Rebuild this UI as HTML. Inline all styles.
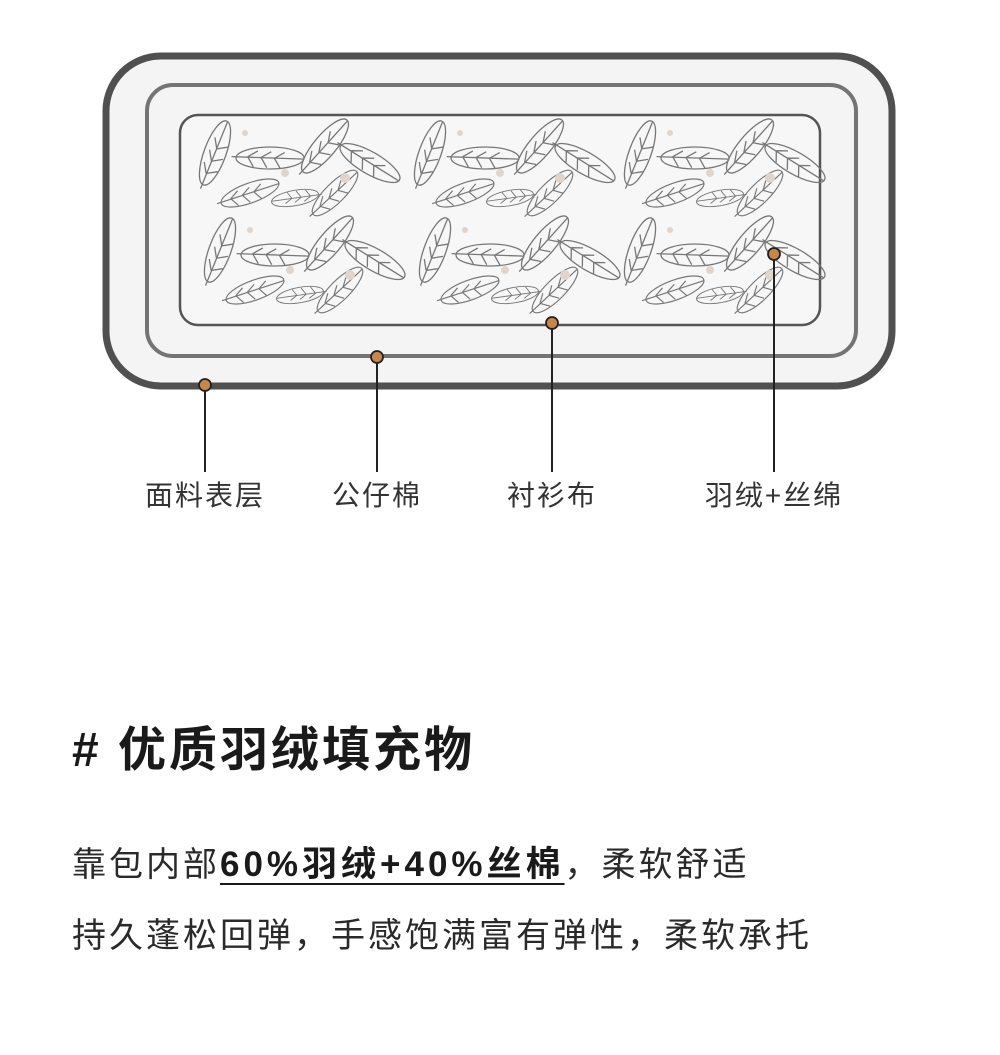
<!DOCTYPE html>
<html><head><meta charset="utf-8"><style>
body{margin:0;background:#fff;width:1000px;height:1055px;overflow:hidden;position:relative;font-family:"Liberation Sans","Noto Sans CJK SC",sans-serif;color:#222}
.lbl{position:absolute;top:474px;font-size:28px;color:#333;transform:translateX(-50%);white-space:nowrap;letter-spacing:2px}
h1{position:absolute;left:72px;top:710px;margin:0;font-size:48px;font-weight:bold;color:#1a1a1a;letter-spacing:3px}
.p{position:absolute;left:72px;font-size:34px;color:#2a2a2a;white-space:nowrap;letter-spacing:3px}
.p b{text-decoration:underline;text-decoration-thickness:2px;text-underline-offset:7px;color:#1a1a1a;letter-spacing:4px;font-size:35px}
</style></head><body>
<svg width="1000" height="520" style="position:absolute;left:0;top:0">
<defs>
<g id="f" fill="none" stroke="#777" stroke-width="1.3">
<ellipse cx="0" cy="0" rx="34" ry="11" transform="rotate(-30)"/>
<line x1="-34" y1="18" x2="30" y2="-16"/>
<path d="M-20 10 l6 -10 M-8 4 l6 -10 M4 -2 l6 -10 M-20 10 l10 6 M-8 4 l10 6 M4 -2 l10 6"/>
</g>
<g id="t">
<use href="#f" transform="translate(30,35) rotate(-40)"/>
<use href="#f" transform="translate(85,40) rotate(30)"/>
<use href="#f" transform="translate(140,28) rotate(-20)"/>
<use href="#f" transform="translate(185,45) rotate(60)"/>
<use href="#f" transform="translate(65,75) rotate(10) scale(.9)"/>
<use href="#f" transform="translate(150,75) rotate(-15) scale(.9)"/>
<use href="#f" transform="translate(110,80) rotate(-160) scale(.7)"/>
<circle cx="60" cy="15" r="3" fill="#e0d5cc"/><circle cx="160" cy="60" r="5" fill="#e0d5cc"/><circle cx="100" cy="55" r="4" fill="#e0d5cc"/>
</g>
</defs>
<rect x="106" y="56" width="786" height="330" rx="55" fill="#f4f4f4" stroke="#505050" stroke-width="7"/>
<rect x="147" y="85" width="709" height="271" rx="26" fill="#f4f4f4" stroke="#747474" stroke-width="4"/>
<rect x="180" y="115" width="640" height="210" rx="18" fill="#f7f7f7" stroke="#555" stroke-width="2.5"/>
<g>
<use href="#t" transform="translate(185,118)"/><use href="#t" transform="translate(400,118)"/><use href="#t" transform="translate(610,118)"/>
<use href="#t" transform="translate(190,215)"/><use href="#t" transform="translate(405,215)"/><use href="#t" transform="translate(610,215)"/>
</g>
<g stroke="#222" stroke-width="2">
<line x1="205" y1="385" x2="205" y2="472"/><line x1="377" y1="357" x2="377" y2="472"/>
<line x1="552" y1="323" x2="552" y2="472"/><line x1="774" y1="254" x2="774" y2="472"/>
</g>
<g fill="#c8874a" stroke="#222" stroke-width="1.8">
<circle cx="205" cy="385" r="6"/><circle cx="377" cy="357" r="6"/><circle cx="552" cy="323" r="6"/><circle cx="774" cy="254" r="6"/>
</g>
</svg>
<div class="lbl" style="left:205px">面料表层</div>
<div class="lbl" style="left:377px">公仔棉</div>
<div class="lbl" style="left:552px">衬衫布</div>
<div class="lbl" style="left:774px">羽绒+丝绵</div>
<h1># 优质羽绒填充物</h1>
<div class="p" style="top:836px">靠包内部<b>60%羽绒+40%丝棉</b>，柔软舒适</div>
<div class="p" style="top:908px">持久蓬松回弹，手感饱满富有弹性，柔软承托</div>
</body></html>
